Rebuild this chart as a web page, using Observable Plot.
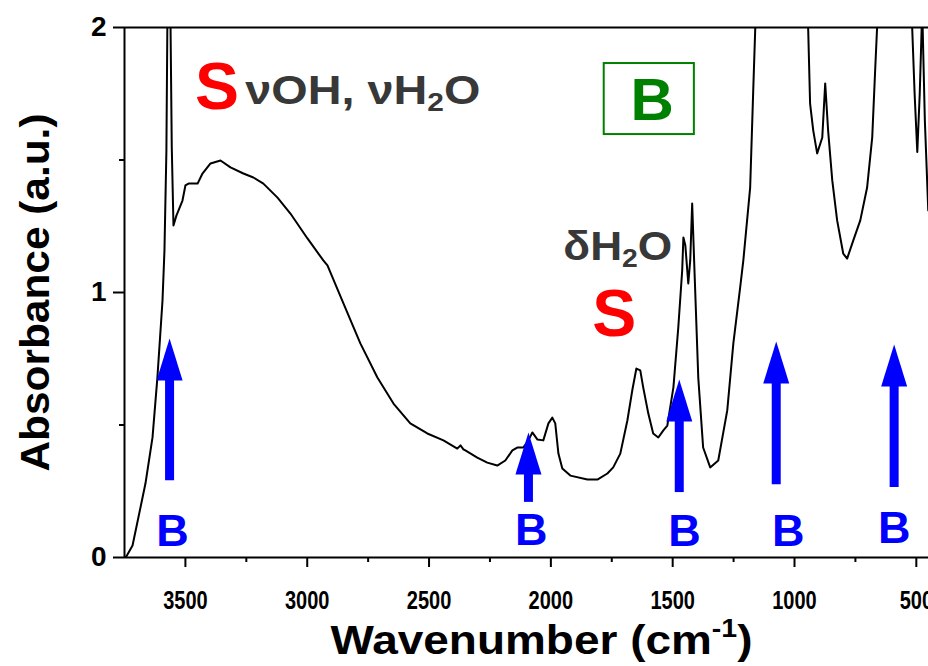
<!DOCTYPE html>
<html>
<head>
<meta charset="utf-8">
<script src="https://cdn.jsdelivr.net/npm/d3@7"></script>
<script src="https://cdn.jsdelivr.net/npm/@observablehq/plot@0.6"></script>
<style>
  html, body { margin: 0; padding: 0; background: #fff; }
</style>
</head>
<body>
<div id="chart"></div>
<script>
// ---- Spectrum (wavenumber in cm-1, absorbance in a.u.) ----
const wavenumber = [
  3750, 3742, 3717, 3664, 3635, 3615, 3594, 3586, 3578, 3570, 3561, 3556, 3549,
  3537, 3512, 3500, 3487, 3450, 3430, 3397, 3356, 3315, 3262, 3221, 3180, 3122,
  3069, 2999, 2934, 2917, 2851, 2782, 2712, 2646, 2577, 2507, 2441, 2384, 2371,
  2359, 2351, 2302, 2261, 2220, 2187, 2158, 2138, 2113, 2092, 2076, 2055, 2031,
  2010, 1994, 1982, 1969, 1953, 1920, 1850, 1809, 1768, 1744, 1715, 1686, 1666,
  1649, 1633, 1621, 1600, 1580, 1559, 1539, 1522, 1497, 1477, 1461, 1456, 1448,
  1436, 1428, 1420, 1412, 1395, 1375, 1346, 1313, 1276, 1251, 1223, 1210, 1182,
  1169, 1161, 1150, 960, 944, 936, 923, 907, 886, 874, 862, 845, 825, 800, 784,
  759, 730, 702, 681, 669, 661, 640, 520, 517, 507, 496, 486, 478, 476, 474, 465, 451
];
const absorbance = [
  0.000, 0.005, 0.045, 0.279, 0.453, 0.679, 0.970, 1.158, 1.536, 2.500, 2.000, 1.550, 1.253,
  1.290, 1.347, 1.404, 1.411, 1.411, 1.449, 1.487, 1.498, 1.472, 1.449, 1.434, 1.411, 1.358,
  1.298, 1.204, 1.121, 1.102, 0.958, 0.808, 0.679, 0.581, 0.506, 0.468, 0.442, 0.411, 0.423,
  0.408, 0.404, 0.377, 0.358, 0.347, 0.366, 0.404, 0.415, 0.415, 0.442, 0.472, 0.445, 0.442,
  0.506, 0.528, 0.506, 0.392, 0.336, 0.309, 0.294, 0.294, 0.317, 0.340, 0.392, 0.517, 0.630,
  0.713, 0.706, 0.642, 0.543, 0.468, 0.453, 0.479, 0.498, 0.642, 0.868, 1.083, 1.208, 1.177,
  1.034, 1.121, 1.336, 1.121, 0.679, 0.415, 0.340, 0.366, 0.555, 0.808, 1.019, 1.121, 1.396,
  1.774, 2.000, 2.400, 2.400, 2.000, 1.713, 1.611, 1.525, 1.585, 1.789, 1.611, 1.423, 1.272, 1.147, 1.128,
  1.196, 1.272, 1.396, 1.585, 1.838, 2.000, 2.400, 2.400, 2.000, 1.750, 1.530, 1.750, 2.000, 2.200, 2.000, 1.650, 1.310
];

// ---- Axes ----
const xDomain = [3750, 450];
const yDomain = [0, 2];
const xMajorTicks = [3500, 3000, 2500, 2000, 1500, 1000, 500];
const xMinorTicks = [3250, 2750, 2250, 1750, 1250, 750];
const yMajorTicks = [0, 1, 2];
const yMinorTicks = [0.5, 1.5];
const xTitle = "Wavenumber (cm⁻¹)";
const yTitle = "Absorbance (a.u.)";

// ---- "B" arrows (band positions) ----
const arrowWn   = [3565, 2092, 1473, 1075, 591];
const arrowTip  = [0.826, 0.472, 0.672, 0.815, 0.804];
const arrowTail = [0.290, 0.208, 0.245, 0.275, 0.264];
const bLabelWn  = [3553, 2080, 1452, 1026, 591];
const bLabelAbs = [0.098, 0.102, 0.098, 0.098, 0.109];
const bLabelText = ["B", "B", "B", "B", "B"];

// ---- Annotations ----
const sLabelWn  = [3370, 1740];
const sLabelAbs = [1.772, 0.917];
const sLabelText = ["S", "S"];
const modeLabelWn  = [3254, 1949];
const modeLabelAbs = [1.762, 1.174];
const modeLabelText = ["νOH, νH₂O", "δH₂O"];
const boxX = [1781, 1411];
const boxY = [1.596, 1.864];
const boxLabelWn = [1584];
const boxLabelAbs = [1.723];
const boxLabelText = ["B"];

// ---- Build tables ----
const spectrum = wavenumber.map((w, i) => ({wn: w, abs: absorbance[i]}));
const arrows = arrowWn.map((w, i) => ({wn: w, tip: arrowTip[i], tail: arrowTail[i]}));
const bLabels = bLabelWn.map((w, i) => ({wn: w, abs: bLabelAbs[i], text: bLabelText[i]}));
const sLabels = sLabelWn.map((w, i) => ({wn: w, abs: sLabelAbs[i], text: sLabelText[i]}));
const modeLabels = modeLabelWn.map((w, i) => ({wn: w, abs: modeLabelAbs[i], text: modeLabelText[i]}));
const box = [{x1: boxX[0], x2: boxX[1], y1: boxY[0], y2: boxY[1]}];
const boxLabels = boxLabelWn.map((w, i) => ({wn: w, abs: boxLabelAbs[i], text: boxLabelText[i]}));

const BLUE = "#0000ff", RED = "#ff0000", GREEN = "#008000", GREY = "#383838";

// filled arrow head with its tip at the anchor point
const arrowHead = {
  draw(ctx) { ctx.moveTo(0, 0); ctx.lineTo(13, 42); ctx.lineTo(-13, 42); ctx.closePath(); }
};

const chart = Plot.plot({
  width: 928,
  height: 666,
  marginLeft: 124,
  marginRight: 0,
  marginTop: 27,
  marginBottom: 109,
  style: {fontFamily: "'Liberation Sans', Arial, sans-serif", background: "#fff", color: "#000", overflow: "visible"},
  x: {domain: xDomain, label: null},
  y: {domain: yDomain, label: null},
  marks: [
    // axes
    Plot.axisX({ticks: xMajorTicks, tickSize: 10, tickPadding: 24, tickFormat: d => String(d),
      fontSize: 25, fontWeight: "bold", strokeWidth: 2, label: null}),
    Plot.axisX({ticks: xMinorTicks, tickSize: 5, tickFormat: () => "", strokeWidth: 2, label: null}),
    Plot.axisY({ticks: yMajorTicks, tickSize: 11, tickPadding: 7, tickFormat: d => String(d),
      fontSize: 28, fontWeight: "bold", strokeWidth: 2, label: null}),
    Plot.axisY({ticks: yMinorTicks, tickSize: 5, tickFormat: () => "", strokeWidth: 2, label: null}),
    Plot.ruleY([0, 2], {strokeWidth: 2}),
    Plot.ruleX([xDomain[0]], {strokeWidth: 2}),
    // titles
    Plot.text([xTitle], {text: d => d, frameAnchor: "bottom", dx: 15, dy: 83,
      lineAnchor: "middle", textAnchor: "middle", fontSize: 41, fontWeight: "bold"}),
    Plot.text([yTitle], {text: d => d, frameAnchor: "left", dx: -89, rotate: -90,
      lineAnchor: "middle", textAnchor: "middle", fontSize: 41, fontWeight: "bold"}),
    // spectrum
    Plot.line(spectrum, {x: "wn", y: "abs", stroke: "#000", strokeWidth: 2, clip: true,
      strokeLinejoin: "round"}),
    // arrows
    Plot.ruleX(arrows, {x: "wn", y1: "tip", y2: "tail", insetTop: 38, stroke: BLUE, strokeWidth: 9}),
    Plot.dot(arrows, {x: "wn", y: "tip", symbol: arrowHead, fill: BLUE, stroke: null}),
    Plot.text(bLabels, {x: "wn", y: "abs", text: "text", fill: BLUE, fontSize: 45, fontWeight: "bold"}),
    // annotations
    Plot.text(sLabels, {x: "wn", y: "abs", text: "text", fill: RED, fontSize: 66, fontWeight: "bold"}),
    Plot.text(modeLabels, {x: "wn", y: "abs", text: "text", fill: GREY, fontSize: 41, fontWeight: "bold",
      textAnchor: "start"}),
    Plot.rect(box, {x1: "x1", x2: "x2", y1: "y1", y2: "y2", fill: "none", stroke: GREEN, strokeWidth: 2}),
    Plot.text(boxLabels, {x: "wn", y: "abs", text: "text", fill: GREEN, fontSize: 60, fontWeight: "bold"})
  ]
});

document.getElementById("chart").appendChild(chart);

// target drawn widths of some texts (to mimic the condensed / stretched lettering)
const fitWidth = new Map([
  [xTitle, 422], [yTitle, 358], ["νOH, νH₂O", 235], ["δH₂O", 109]
]);

// turn unicode sub/superscripts into shifted tspans
d3.select(chart).selectAll("text").each(function () {
  const s = this.textContent;
  const target = fitWidth.get(s);
  if (/[₂⁻¹]/.test(s)) {
    const fs = parseFloat(getComputedStyle(this).fontSize) || 40;
    const parts = s.split(/(₂|⁻¹)/).filter(p => p);
    this.textContent = "";
    for (const p of parts) {
      const t = document.createElementNS("http://www.w3.org/2000/svg", "tspan");
      if (p === "₂") {
        t.textContent = "2";
        t.setAttribute("font-size", (fs * 0.64).toFixed(1));
        t.setAttribute("baseline-shift", (-fs * 0.16).toFixed(1));
      } else if (p === "⁻¹") {
        t.textContent = "-1";
        t.setAttribute("font-size", (fs * 0.62).toFixed(1));
        t.setAttribute("baseline-shift", (fs * 0.42).toFixed(1));
      } else {
        t.textContent = p;
      }
      this.appendChild(t);
    }
  }
  if (target) {
    this.setAttribute("textLength", target);
    this.setAttribute("lengthAdjust", "spacingAndGlyphs");
  }
});

// condense the tick labels like the original lettering
d3.select(chart).selectAll('g[aria-label="x-axis tick label"] text').each(function () {
  const w = this.getComputedTextLength();
  if (w > 0) {
    this.setAttribute("textLength", (w * 0.8).toFixed(1));
    this.setAttribute("lengthAdjust", "spacingAndGlyphs");
  }
});
</script>
</body>
</html>
